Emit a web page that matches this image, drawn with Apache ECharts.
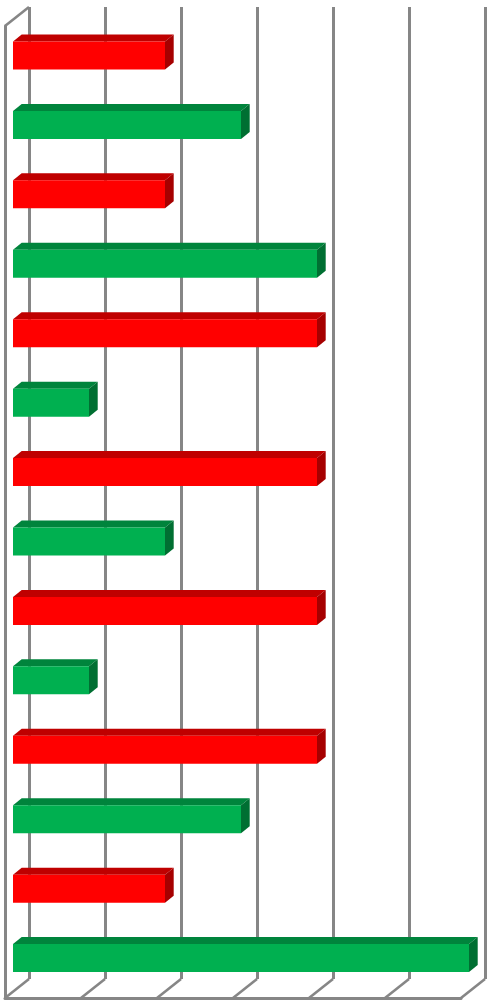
<!DOCTYPE html>
<html><head><meta charset="utf-8">
<style>html,body{margin:0;padding:0;background:#fff}#c{width:494px;height:1003px}</style>
<script src="https://cdn.jsdelivr.net/npm/echarts@6/dist/echarts.min.js"></script>
</head><body><div id="c"></div>
<script>
const categories = ['1','2','3','4','5','6','7','8','9','10','11','12','13','14'];
const values = [2,3,2,4,4,1,4,2,4,1,4,3,2,6];
const seriesKind = [0,1,0,1,0,1,0,1,0,1,0,1,0,1];
const xTicks = [0,1,2,3,4,5,6];
const faces = [
  {front:'#FF0000', top:'#BF0000', side:'#A60000'},
  {front:'#00B050', top:'#00843C', side:'#006F32'}
];
const GRAY = '#868686';
const DX = 8.7, DY = 7;         // bar extrusion
const WX = 24, WY = 19;         // wall depth

const chart = echarts.init(document.getElementById('c'), null, {renderer:'canvas'});
const xBase = {type:'value', min:0, max:6, interval:1, axisLabel:{show:false}, axisTick:{show:false}};
const yBase = {type:'category', data:categories, inverse:true, axisLabel:{show:false}, axisTick:{show:false}, splitLine:{show:false}};
chart.setOption({
  animation:false,
  backgroundColor:'#fff',
  grid:[
    {left:29, top:7, width:456, height:972},
    {left:5, top:26, width:456, height:972},
    {left:13, top:20.8, width:456, height:972}
  ],
  xAxis:[
    Object.assign({gridIndex:0}, xBase, {axisLine:{show:false}, splitLine:{show:true, lineStyle:{color:GRAY, width:3}}}),
    Object.assign({gridIndex:1, position:'bottom'}, xBase, {axisLine:{show:true, lineStyle:{color:GRAY, width:3}}, splitLine:{show:false}}),
    Object.assign({gridIndex:2}, xBase, {axisLine:{show:false}, splitLine:{show:false}})
  ],
  yAxis:[
    Object.assign({gridIndex:0}, yBase, {axisLine:{show:false}}),
    Object.assign({gridIndex:1}, yBase, {axisLine:{show:true, onZero:false, lineStyle:{color:GRAY, width:3}}}),
    Object.assign({gridIndex:2}, yBase, {axisLine:{show:false}})
  ],
  series:[
    { // floor diagonals
      type:'custom', xAxisIndex:1, yAxisIndex:1, z:3, silent:true,
      coordinateSystem:'cartesian2d',
      data:xTicks.map(t=>[t, categories[categories.length-1]]),
      renderItem(params, api){
        const x = api.coord([api.value(0), categories[0]])[0];
        const y = params.coordSys.y + params.coordSys.height;
        return {type:'line', shape:{x1:x, y1:y, x2:x+WX, y2:y-WY},
                style:{stroke:GRAY, lineWidth:2.6, fill:null}};
      }
    },
    { // top-left wall diagonal
      type:'custom', xAxisIndex:1, yAxisIndex:1, z:3, silent:true,
      coordinateSystem:'cartesian2d',
      data:[[0, categories[0]]],
      renderItem(params){
        const x = params.coordSys.x, y = params.coordSys.y;
        return {type:'line', shape:{x1:x, y1:y, x2:x+WX, y2:y-WY},
                style:{stroke:GRAY, lineWidth:2.6, fill:null}};
      }
    },
    { // bars
      type:'custom', xAxisIndex:2, yAxisIndex:2, z:5, silent:true,
      coordinateSystem:'cartesian2d',
      data:values.map((v,i)=>[v, categories[i], seriesKind[i]]),
      encode:{x:0, y:1},
      renderItem(params, api){
        const c = faces[api.value(2)];
        const end = api.coord([api.value(0), params.dataIndex]);
        const start = api.coord([0, params.dataIndex]);
        const h = 28, y0 = end[1]-h/2, y1 = end[1]+h/2, xa = start[0], xb = end[0];
        return {type:'group', children:[
          {type:'polygon', shape:{points:[[xa,y0],[xa+DX,y0-DY],[xb+DX,y0-DY],[xb,y0]]}, style:{fill:c.top}},
          {type:'polygon', shape:{points:[[xb,y0],[xb+DX,y0-DY],[xb+DX,y1-DY],[xb,y1]]}, style:{fill:c.side}},
          {type:'rect', shape:{x:xa, y:y0, width:xb-xa, height:h}, style:{fill:c.front}}
        ]};
      }
    }
  ]
});
</script></body></html>
